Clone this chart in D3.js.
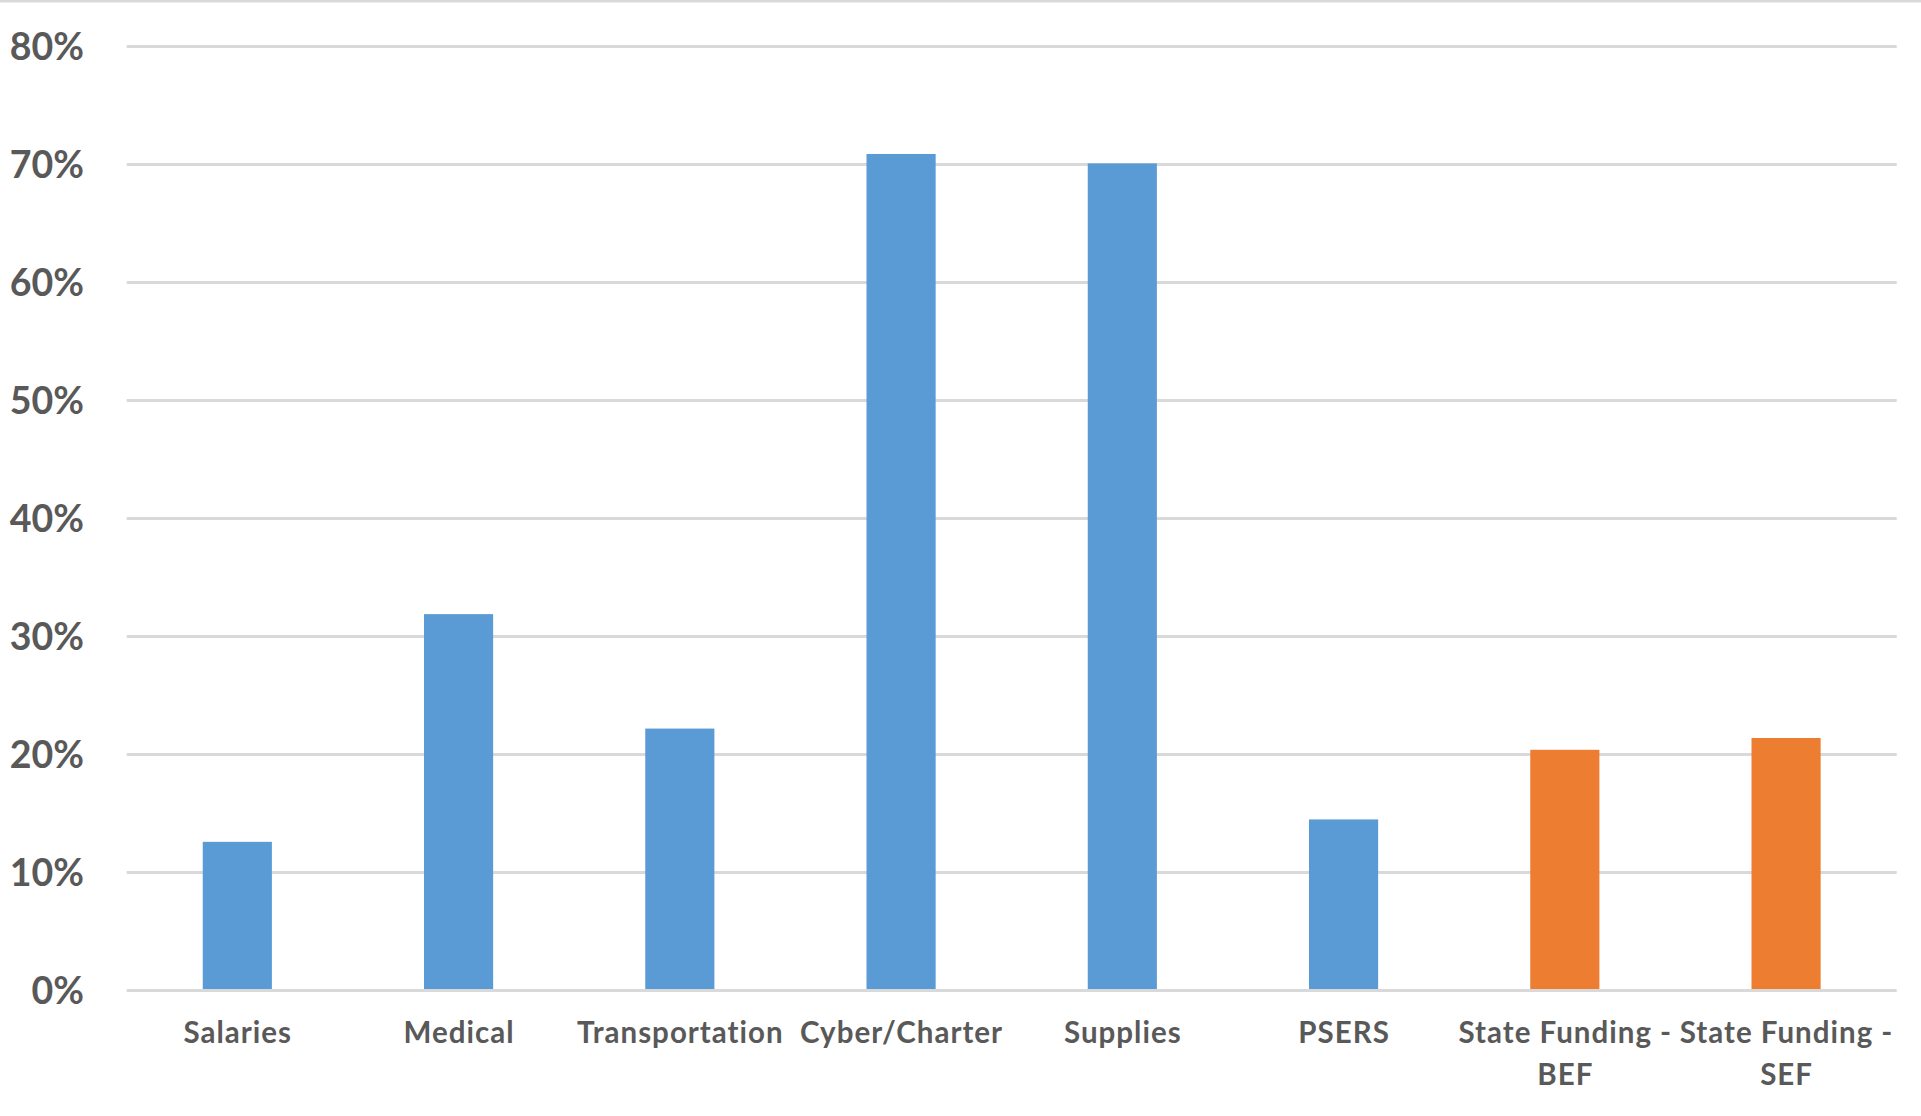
<!DOCTYPE html>
<html>
<head>
<meta charset="utf-8">
<script src="https://cdn.jsdelivr.net/npm/d3@7"></script>
<style>
  html, body { margin: 0; padding: 0; background: #ffffff; }
  svg { display: block; }
  .cat-label, .tick-label { font-family: Lato, "Open Sans", sans-serif; font-weight: 700; fill: #595959; }
</style>
</head>
<body>
<script>
// Cost categories and their percentage change
const categories = ["Salaries", "Medical", "Transportation", "Cyber/Charter", "Supplies", "PSERS", "State Funding - BEF", "State Funding - SEF"];
const labelLines = [["Salaries"], ["Medical"], ["Transportation"], ["Cyber/Charter"], ["Supplies"], ["PSERS"], ["State Funding -", "BEF"], ["State Funding -", "SEF"]];
const values = [12.6, 31.9, 22.2, 70.9, 70.1, 14.5, 20.4, 21.4];
const groups = ["cost", "cost", "cost", "cost", "cost", "cost", "funding", "funding"];
const yTicks = [0, 10, 20, 30, 40, 50, 60, 70, 80];

const width = 1921, height = 1116;
const plot = { left: 126.7, right: 1896.7, top: 46.6, bottom: 990.5 };
const colors = { cost: "#5b9bd5", funding: "#ed7d31" };

const svg = d3.select("body").append("svg")
  .attr("width", width)
  .attr("height", height);

// thin frame line along the top edge
svg.append("rect")
  .attr("x", 0).attr("y", 0)
  .attr("width", width).attr("height", 2.5)
  .attr("fill", "#d9d9d9");

const x = d3.scaleBand()
  .domain(categories)
  .range([plot.left, plot.right])
  .paddingInner(0)
  .paddingOuter(0);

const y = d3.scaleLinear()
  .domain([0, 80])
  .range([plot.bottom, plot.top]);

// horizontal gridlines
svg.append("g")
  .selectAll("line")
  .data(yTicks)
  .join("line")
  .attr("x1", plot.left)
  .attr("x2", plot.right)
  .attr("y1", d => y(d))
  .attr("y2", d => y(d))
  .attr("stroke", "#d9d9d9")
  .attr("stroke-width", 3);

// y tick labels
svg.append("g")
  .selectAll("text")
  .data(yTicks)
  .join("text")
  .attr("class", "tick-label")
  .attr("x", 84)
  .attr("y", d => y(d))
  .attr("dy", "0.36em")
  .attr("text-anchor", "end")
  .attr("font-size", 37.5)
  .text(d => d + "%");

// bars: gap width of roughly 220% of the bar
const barW = x.bandwidth() / 3.2;
svg.append("g")
  .selectAll("rect")
  .data(categories)
  .join("rect")
  .attr("x", (d) => x(d) + (x.bandwidth() - barW) / 2)
  .attr("y", (d, i) => y(values[i]))
  .attr("width", barW)
  .attr("height", (d, i) => y(0) - y(values[i]) - 1.5)
  .attr("fill", (d, i) => colors[groups[i]]);

// category labels, wrapped onto two lines where needed
const cat = svg.append("g")
  .selectAll("text")
  .data(categories)
  .join("text")
  .attr("class", "cat-label")
  .attr("x", d => x(d) + x.bandwidth() / 2 + 0.5)
  .attr("y", 1043)
  .attr("text-anchor", "middle")
  .attr("letter-spacing", 1.0)
  .attr("font-size", 29.5);

cat.selectAll("tspan")
  .data((d, i) => labelLines[i])
  .join("tspan")
  .attr("x", function () { return d3.select(this.parentNode).attr("x"); })
  .attr("dy", (d, j) => j === 0 ? 0 : 41.6)
  .text(d => d);
</script>
</body>
</html>
